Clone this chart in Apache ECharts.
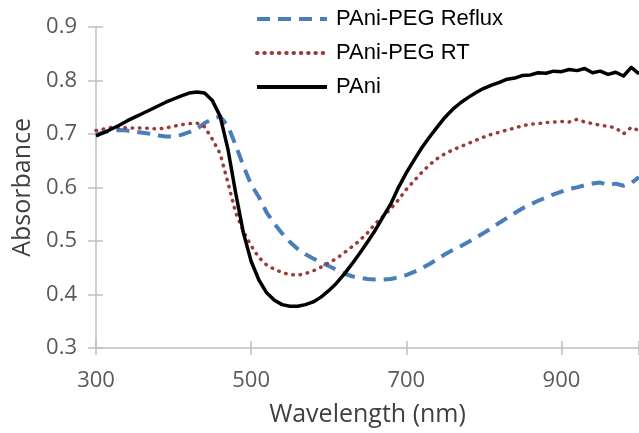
<!DOCTYPE html>
<html>
<head>
<meta charset="utf-8">
<script src="https://cdn.jsdelivr.net/npm/echarts@6/dist/echarts.min.js"></script>
<style>
  html, body { margin: 0; padding: 0; background: #fff; }
  #main { width: 639px; height: 433px; }
</style>
</head>
<body>
<div id="main"></div>
<script>
// wavelength (nm), one point every 10 nm
var wavelengths = [];
for (var w = 300; w <= 1000; w += 10) wavelengths.push(w);

var refluxValues = [
  0.698, 0.703, 0.706, 0.707, 0.706, 0.704, 0.702, 0.700, 0.697, 0.695,
  0.695, 0.698, 0.703, 0.709, 0.720, 0.728, 0.732, 0.715, 0.679, 0.640,
  0.605, 0.582, 0.553, 0.532, 0.514, 0.498, 0.485, 0.475, 0.467, 0.460,
  0.453, 0.446, 0.439, 0.434, 0.431, 0.429, 0.428, 0.428, 0.429, 0.432,
  0.436, 0.442, 0.449, 0.457, 0.466, 0.475, 0.483, 0.490, 0.498, 0.506,
  0.515, 0.524, 0.534, 0.543, 0.552, 0.561, 0.568, 0.575, 0.581, 0.587,
  0.592, 0.597, 0.600, 0.604, 0.607, 0.609, 0.604, 0.607, 0.603, 0.608,
  0.619
];
var rtValues = [
  0.706, 0.709, 0.712, 0.712, 0.711, 0.711, 0.711, 0.710, 0.709, 0.711,
  0.714, 0.717, 0.719, 0.720, 0.713, 0.690, 0.663, 0.609, 0.553, 0.518,
  0.491, 0.469, 0.455, 0.447, 0.441, 0.437, 0.436, 0.439, 0.444, 0.451,
  0.459, 0.467, 0.478, 0.489, 0.501, 0.515, 0.532, 0.546, 0.560, 0.577,
  0.596, 0.612, 0.628, 0.642, 0.654, 0.663, 0.670, 0.676, 0.682, 0.688,
  0.694, 0.699, 0.703, 0.707, 0.711, 0.715, 0.718, 0.719, 0.721, 0.722,
  0.723, 0.722, 0.727, 0.722, 0.719, 0.716, 0.714, 0.711, 0.700, 0.712,
  0.706
];
var paniValues = [
  0.696, 0.702, 0.709, 0.716, 0.724, 0.731, 0.738, 0.745, 0.752, 0.759,
  0.765, 0.771, 0.776, 0.778, 0.776, 0.762, 0.733, 0.672, 0.590, 0.515,
  0.462, 0.427, 0.403, 0.389, 0.381, 0.378, 0.378, 0.381, 0.386, 0.395,
  0.407, 0.421, 0.438, 0.457, 0.477, 0.498, 0.520, 0.545, 0.569, 0.600,
  0.627, 0.651, 0.674, 0.694, 0.713, 0.731, 0.746, 0.758, 0.768, 0.777,
  0.785, 0.791, 0.796, 0.802, 0.804, 0.809, 0.810, 0.814, 0.813, 0.817,
  0.816, 0.820, 0.818, 0.822, 0.814, 0.817, 0.811, 0.815, 0.808, 0.824,
  0.812
];
var seriesNames = ['PAni-PEG Reflux', 'PAni-PEG RT', 'PAni'];

function pairs(vals) {
  return wavelengths.map(function (x, i) { return [x, vals[i]]; });
}

var chart = echarts.init(document.getElementById('main'));
var font = '"Open Sans", "Liberation Sans", sans-serif';
var gridLine = '#bfbfbf';

var option = {
  animation: false,
  backgroundColor: '#fff',
  grid: { left: 96, right: 0, top: 26.7, bottom: 85, outerBoundsMode: 'none', containLabel: false },
  legend: {
    orient: 'vertical',
    left: 250,
    top: 3,
    itemWidth: 70,
    itemHeight: 22,
    itemGap: 12,
    data: seriesNames,
    itemStyle: { opacity: 0 },
    lineStyle: { width: 4 },
    textStyle: {
      fontFamily: '"Liberation Sans", Arial, sans-serif', fontSize: 22, lineHeight: 22,
      color: '#000', padding: [0, 0, 0, 4]
    }
  },
  xAxis: [{
    type: 'value', min: 300, max: 1000, interval: 200,
    name: 'Wavelength (nm)', nameLocation: 'middle', nameGap: 54,
    nameTextStyle: { fontFamily: font, fontSize: 25, color: '#404040' },
    axisLine: { lineStyle: { color: gridLine, width: 1.5 } },
    axisTick: { length: 7, lineStyle: { color: gridLine, width: 1.5 } },
    axisLabel: {
      fontFamily: font, fontSize: 22, color: '#595959', margin: 22,
      formatter: function (v) { return v % 200 === 100 ? v : ''; }
    },
    splitLine: { show: false }
  }, {
    type: 'value', min: 300, max: 1000, interval: 200, position: 'bottom',
    axisLine: { show: false },
    axisTick: { inside: true, length: 7, lineStyle: { color: gridLine, width: 1.5 } },
    axisLabel: { show: false }, splitLine: { show: false }
  }],
  yAxis: [{
    type: 'value', min: 0.3, max: 0.9, interval: 0.1,
    name: 'Absorbance', nameLocation: 'middle', nameGap: 60,
    nameTextStyle: { fontFamily: font, fontSize: 25, color: '#404040' },
    axisLine: { show: true, lineStyle: { color: gridLine, width: 1.5 } },
    axisTick: { show: true, length: 8, lineStyle: { color: gridLine, width: 1.5 } },
    axisLabel: {
      fontFamily: font, fontSize: 22, color: '#595959', margin: 19,
      formatter: function (v) { return v.toFixed(1); }
    },
    splitLine: { show: false }
  }, {
    type: 'value', min: 0.3, max: 0.9, interval: 0.1, position: 'left',
    axisLine: { show: false },
    axisTick: { show: true, inside: true, length: 7, lineStyle: { color: gridLine, width: 1.5 } },
    axisLabel: { show: false }, splitLine: { show: false }
  }],
  series: [{
    name: seriesNames[0], type: 'line', symbol: 'none', data: pairs(refluxValues),
    color: '#4a7ebb',
    lineStyle: { color: '#4a7ebb', width: 4, type: [13, 8] }
  }, {
    name: seriesNames[1], type: 'line', symbol: 'none', data: pairs(rtValues),
    color: '#9b3b38',
    lineStyle: { color: '#9b3b38', width: 3.5, type: [0.5, 6.8], cap: 'round' }
  }, {
    name: seriesNames[2], type: 'line', symbol: 'none', data: pairs(paniValues),
    color: '#000',
    lineStyle: { color: '#000', width: 3.5, join: 'round' }
  }]
};
chart.setOption(option);
</script>
</body>
</html>
